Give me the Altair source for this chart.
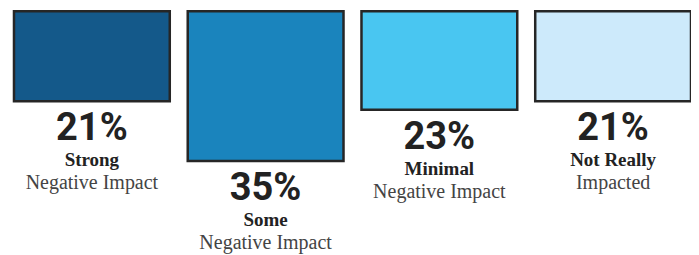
import altair as alt
import pandas as pd

categories = ["Strong", "Some", "Minimal", "Not Really"]
descriptions = ["Negative Impact", "Negative Impact", "Negative Impact", "Impacted"]
values = [21, 35, 23, 21]
colors = ["#14598a", "#1a84bd", "#49c6f1", "#cdeafb"]

df = pd.DataFrame({
    "category": categories,
    "desc": descriptions,
    "value": values,
    "label": [f"{v}%" for v in values],
    "color": colors,
})

W, H = 678, 244

x = alt.X("category:N", sort=categories, axis=None,
          scale=alt.Scale(paddingInner=0.1034, paddingOuter=0))
y_scale = alt.Scale(domain=[0, H / 4.29], reverse=True, zero=True, nice=False)

bars = alt.Chart(df).mark_bar(stroke="#262626", strokeWidth=2.5).encode(
    x=x,
    y=alt.Y("value:Q", scale=y_scale, axis=None),
    y2=alt.datum(0),
    color=alt.Color("color:N", scale=None),
)

base_t = alt.Chart(df).encode(
    x=x,
    y=alt.Y("value:Q", scale=y_scale, axis=None),
)

pct = base_t.mark_text(font="Roboto", fontWeight="bold", fontSize=38,
                       color="#222222", baseline="alphabetic", dy=39).encode(text="label:N")
cat = base_t.mark_text(font="Liberation Serif", fontWeight="bold", fontSize=19,
                       color="#222222", baseline="alphabetic", dy=65).encode(text="category:N")
desc = base_t.mark_text(font="Liberation Serif", fontSize=20,
                        color="#444444", baseline="alphabetic", dy=88).encode(text="desc:N")

chart = alt.layer(bars, pct, cat, desc).properties(
    width=W, height=H,
    autosize=alt.AutoSizeParams(type="none"),
    padding={"left": 6, "top": 3, "right": 0, "bottom": 0},
).configure_view(stroke=None)

chart.save("out.html", embed_options={"renderer": "svg", "actions": False})
